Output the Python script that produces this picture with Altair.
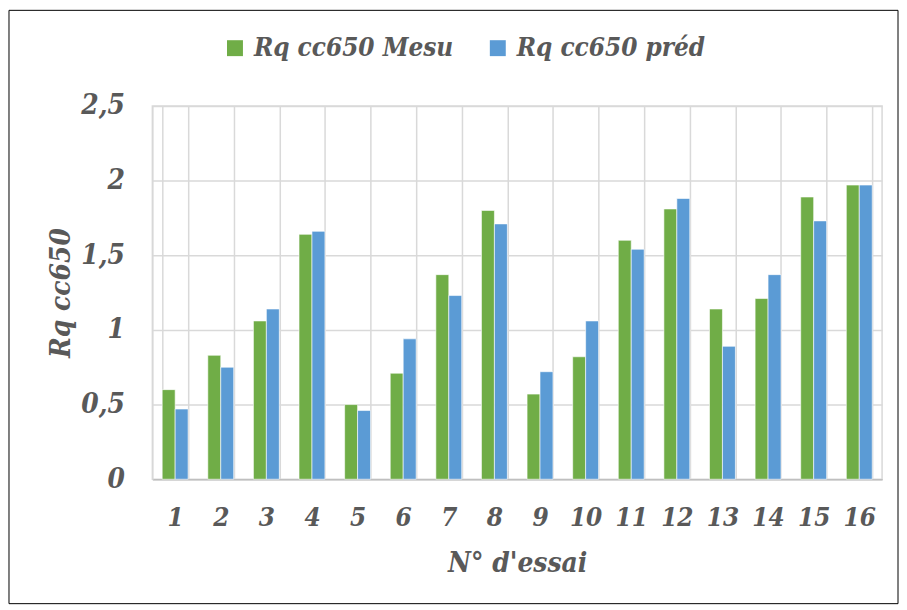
import altair as alt
import pandas as pd

essais = [str(i) for i in range(1, 17)]
mesu = [0.60, 0.83, 1.06, 1.64, 0.50, 0.71, 1.37, 1.80, 0.57, 0.82, 1.60, 1.81, 1.14, 1.21, 1.89, 1.97]
pred = [0.47, 0.75, 1.14, 1.66, 0.46, 0.94, 1.23, 1.71, 0.72, 1.06, 1.54, 1.88, 0.89, 1.37, 1.73, 1.97]
series = ["Rq cc650 Mesu", "Rq cc650 préd"]
colors = ["#70AD47", "#5B9BD5"]
y_ticks = [0, 0.5, 1, 1.5, 2, 2.5]

rows = []
for i, e in enumerate(essais):
    rows.append({"essai": e, "serie": series[0], "val": mesu[i]})
    rows.append({"essai": e, "serie": series[1], "val": pred[i]})
df = pd.DataFrame(rows)

FONT = "DejaVu Serif Condensed"
TXT = "#595959"
W, H = 733, 375

bars = alt.Chart(df).mark_bar(stroke="white", strokeWidth=0.6).encode(
    x=alt.X(
        "essai:N",
        sort=essais,
        scale=alt.Scale(paddingInner=0.432, paddingOuter=0.216),
        axis=alt.Axis(
            title="N° d'essai",
            labelAngle=0,
            tickBand="extent",
            grid=True,
            gridColor="#d9d9d9",
            gridWidth=1.5,
            ticks=False,
            domainColor="#bfbfbf",
            domainWidth=1.5,
            labelFont=FONT,
            labelFontSize=26,
            labelFontStyle="italic",
            labelFontWeight="bold",
            labelColor=TXT,
            labelPadding=25,
            titleFont=FONT,
            titleFontSize=28,
            titleFontStyle="italic",
            titleFontWeight="bold",
            titleColor=TXT,
            titlePadding=20,
        ),
    ),
    xOffset=alt.XOffset("serie:N", sort=series, scale=alt.Scale(paddingInner=0, paddingOuter=0)),
    y=alt.Y(
        "val:Q",
        scale=alt.Scale(domain=[0, 2.5]),
        axis=alt.Axis(
            title="Rq cc650",
            values=y_ticks,
            labelExpr="replace(toString(datum.value), '.', ',')",
            grid=True,
            gridColor="#d9d9d9",
            gridWidth=1.5,
            ticks=False,
            domainColor="#d9d9d9",
            domainWidth=1.5,
            labelFont=FONT,
            labelFontSize=28,
            labelFontStyle="italic",
            labelFontWeight="bold",
            labelColor=TXT,
            labelPadding=28,
            titleFont=FONT,
            titleFontSize=28,
            titleFontStyle="italic",
            titleFontWeight="bold",
            titleColor=TXT,
            titlePadding=5,
        ),
    ),
    color=alt.Color(
        "serie:N",
        scale=alt.Scale(domain=series, range=colors),
        title=None,
        legend=alt.Legend(
            orient="none",
            legendX=70,
            legendY=-71,
            direction="horizontal",
            symbolType="square",
            symbolSize=256,
            symbolStrokeWidth=0,
            labelFont=FONT,
            labelFontSize=26,
            labelFontStyle="italic",
            labelFontWeight="bold",
            labelColor=TXT,
            labelOffset=6,
            labelLimit=0,
            columnPadding=31,
        ),
    ),
)

border = alt.Chart(pd.DataFrame({"a": [0]})).mark_rect(
    fill=None, stroke="black", strokeWidth=1
).encode(
    x=alt.value(-144), x2=alt.value(W + 16), y=alt.value(-96), y2=alt.value(H + 125)
)

chart = alt.layer(bars, border).properties(
    width=W,
    height=H,
    autosize=alt.AutoSizeParams(type="none"),
    padding={"left": 145, "top": 97, "right": 17, "bottom": 127},
).configure_view(stroke="#d9d9d9", strokeWidth=1.5)

chart.save("out.html", embed_options={"renderer": "svg", "actions": False})
